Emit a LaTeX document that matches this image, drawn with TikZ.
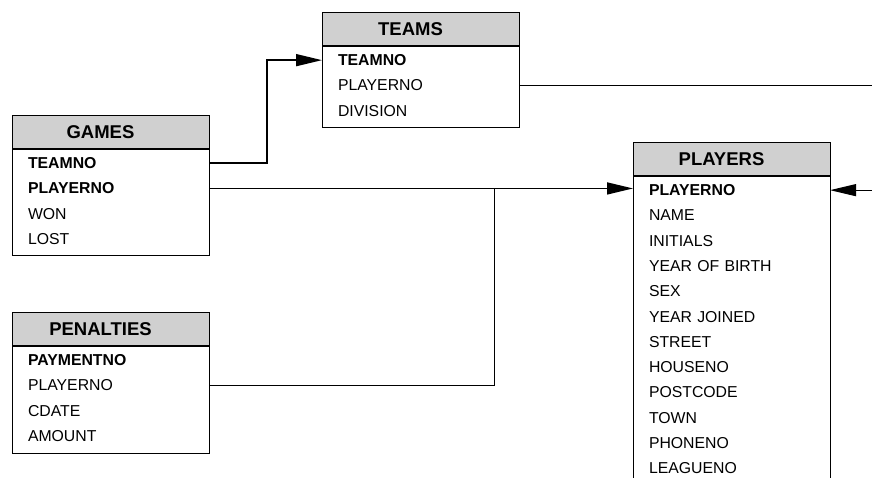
\documentclass[tikz,border=0pt]{standalone}
\usepackage{fontspec}
\setmainfont{Liberation Sans}
\usetikzlibrary{positioning,arrows.meta}
\definecolor{hdrgray}{RGB}{208,208,208}

\begin{document}
\begin{tikzpicture}[x=1pt, y=-1pt,
  tbl/.style={draw, line width=1pt, fill=hdrgray, anchor=north west, minimum width=197pt, minimum height=34pt, inner sep=0pt, outer sep=0pt, font=\bfseries\fontsize{18.5}{20}\selectfont, execute at end node=\hspace*{20pt}},
  row/.style={minimum height=25.3pt, text width=165pt, inner xsep=16pt, inner ysep=0pt, outer sep=0pt, align=left, font=\fontsize{15.8}{18}\selectfont},
  pk/.style={row, font=\bfseries\fontsize{15.8}{18}\selectfont},
  tip/.style={-{Triangle[length=26pt,width=12pt]}}]
  \path[use as bounding box, clip] (0,0) rectangle (872,477);

  % TEAMS
  \node(teams)[tbl] at (322,12) {TEAMS};
  \node(t1)[pk, below=1.5pt of teams] {TEAMNO};
  \node(t2)[row, below=0pt of t1] {PLAYERNO};
  \node(t3)[row, below=0pt of t2] {DIVISION};
  \draw[line width=1pt] (teams.south west) rectangle ([yshift=-4.5pt]t3.south east);
  \draw[line width=2pt] (teams.south west) -- (teams.south east);

  % GAMES
  \node(games)[tbl] at (12,115) {GAMES};
  \node(g1)[pk, below=1.5pt of games] {TEAMNO};
  \node(g2)[pk, below=0pt of g1] {PLAYERNO};
  \node(g3)[row, below=0pt of g2] {WON};
  \node(g4)[row, below=0pt of g3] {LOST};
  \draw[line width=1pt] (games.south west) rectangle ([yshift=-3.3pt]g4.south east);
  \draw[line width=2pt] (games.south west) -- (games.south east);

  % PENALTIES
  \node(pen)[tbl] at (12,312) {PENALTIES};
  \node(pe1)[pk, below=1.5pt of pen] {PAYMENTNO};
  \node(pe2)[row, below=0pt of pe1] {PLAYERNO};
  \node(pe3)[row, below=0pt of pe2] {CDATE};
  \node(pe4)[row, below=0pt of pe3] {AMOUNT};
  \draw[line width=1pt] (pen.south west) rectangle ([yshift=-4.3pt]pe4.south east);
  \draw[line width=2pt] (pen.south west) -- (pen.south east);

  % PLAYERS
  \node(players)[tbl] at (633,142) {PLAYERS};
  \node(p1)[pk, below=1.5pt of players] {PLAYERNO};
  \node(p2)[row, below=0pt of p1] {NAME};
  \node(p3)[row, below=0pt of p2] {INITIALS};
  \node(p4)[row, below=0pt of p3] {YEAR OF BIRTH};
  \node(p5)[row, below=0pt of p4] {SEX};
  \node(p6)[row, below=0pt of p5] {YEAR JOINED};
  \node(p7)[row, below=0pt of p6] {STREET};
  \node(p8)[row, below=0pt of p7] {HOUSENO};
  \node(p9)[row, below=0pt of p8] {POSTCODE};
  \node(p10)[row, below=0pt of p9] {TOWN};
  \node(p11)[row, below=0pt of p10] {PHONENO};
  \node(p12)[row, below=0pt of p11] {LEAGUENO};
  \draw[line width=1pt] (players.south west) rectangle ([yshift=-4pt]p12.south east);
  \draw[line width=2pt] (players.south west) -- (players.south east);

  % foreign keys
  \coordinate(jn) at (494,0);
  \coordinate(rt) at (880,0);
  \draw[tip, line width=1.5pt] (g1.east) -- ++(58,0) |- (t1.west);
  \draw[tip, line width=1.5pt] (g2.east) -- (g2.east -| p1.west);
  \draw[line width=1pt] (pe2.east) -| (jn |- g2.east);
  \draw[line width=1.8pt] (t2.east) -- (t2.east -| rt);
  \draw[tip, line width=1pt] (p1.east -| rt) -- (p1.east);
\end{tikzpicture}
\end{document}
